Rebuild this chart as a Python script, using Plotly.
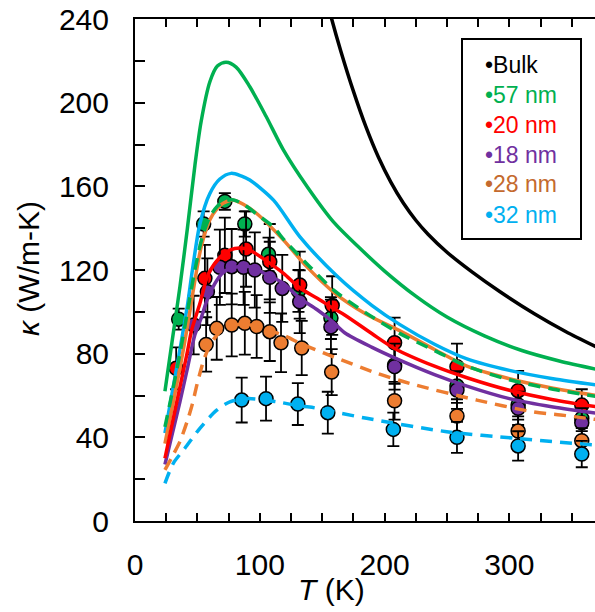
import plotly.graph_objects as go

# ---------------- measured data (symbols with error bars) ----------------
T_57 = [35, 55, 72, 88, 107, 131, 157, 208, 258, 307, 358]
k_57 = [96.5, 142, 152.8, 142, 127.5, 110, 97, 74.6, 64.5, 55.5, 49]
e_57 = [5, 6, 4, 6, 8, 10, 10, 9, 8, 7, 6]

T_20 = [33, 56, 72, 89, 108, 132, 158, 208, 258, 307, 358]
k_20 = [73, 116, 127, 130, 124, 112.8, 103, 85.2, 73.8, 62.3, 55.4]
e_20 = [10, 16, 18, 18, 18, 16, 14, 12, 11, 9.5, 7.6]

T_18 = [47, 58, 68, 77.5, 87, 96, 108, 118, 132, 157, 208, 258, 307, 358]
k_18 = [93.7, 109.6, 121.3, 121.6, 121.3, 120, 116.5, 111.2, 104.8, 92.8, 73.8, 62.6, 53.9, 47]
e_18 = [14, 16, 18, 18, 18, 18, 17, 16, 15, 13, 11, 9, 8, 7]

T_28 = [57, 65.5, 77.5, 88, 97.5, 108, 117, 133.6, 157.6, 208, 258, 307, 358]
k_28 = [84.4, 92.1, 93.7, 94.5, 93, 90.5, 85.2, 82.7, 71.2, 57.5, 50.2, 43, 38.4]
e_28 = [13, 15, 15, 15, 15, 14, 14, 13, 11, 9, 8, 7, 6]

T_32 = [85.5, 105, 130.5, 154.5, 207, 258, 307, 358]
k_32 = [57.8, 58.5, 55.9, 51.8, 43.8, 40, 35.9, 32]
e_32 = [10.7, 10.5, 10, 10, 8, 7.4, 7, 6.3]

# ---------------- model curves ----------------
Tc_bulk = [150, 157.6, 165, 175, 185, 195, 205, 215, 225, 235, 250, 270, 292.5, 320, 345, 370]
kc_bulk = [258, 240, 224.5, 205.5, 188.5, 174, 162, 152, 143.8, 137, 128.5, 119.1, 109.6, 99.1, 90.6, 83.1]

Tc_57s = [24, 30, 36, 42, 48, 53, 60, 66, 73, 81, 92, 105, 119, 138, 159, 180, 200, 225, 250, 280, 310, 340, 370]
kc_57s = [62, 87, 112, 140, 170, 191, 210, 217.5, 219.3, 217, 207.6, 193.5, 177.3, 159.8, 143, 130.5, 119.5, 107.5, 97.5, 88.5, 81.5, 76.5, 72.5]

Tc_32s = [24, 30, 36, 42, 46, 52, 60, 68, 77, 85, 92, 111, 132, 162, 190, 212, 240, 266, 300, 335, 370]
kc_32s = [42, 62, 82, 103, 120, 142, 156.6, 163.5, 166.2, 165, 163, 153.4, 136, 117, 103, 94, 84.5, 77.5, 72, 68, 65]

Tc_28s = [24, 30, 36, 42, 48, 53, 60, 66, 71, 79, 88, 97.5, 119, 137.6, 160, 185, 212, 240, 266, 300, 335, 370]
kc_28s = [37, 55, 73, 93, 115, 131, 144, 149.5, 152, 153.4, 151, 147, 134.3, 121.6, 109, 99, 91, 82, 74, 68, 63.5, 60]

Tc_57d = [24, 30, 36, 42, 48, 54, 60, 66, 72, 79, 88, 98, 111, 120, 140, 160, 185, 212, 240, 266, 300, 335, 370]
kc_57d = [45, 62, 80, 100, 120, 136, 145.5, 150.5, 153, 153.5, 151, 146.5, 140.5, 134, 121.6, 110, 99.5, 89.7, 81.5, 74, 67.5, 63, 59.5]

Tc_20 = [24, 30, 36, 42, 45.4, 52, 58.7, 68, 76, 84, 92, 105, 119, 132, 146, 158, 168, 190, 208, 240, 266, 300, 335, 370]
kc_20 = [30, 47, 64, 81, 91.3, 104, 118, 126, 129.5, 130.5, 129.5, 124.5, 118.4, 111.5, 106.5, 102, 98.5, 89.5, 82.5, 74, 68.5, 62.5, 58, 54.6]

Tc_18 = [24, 30, 36, 42, 48, 53, 58, 65.5, 72, 80, 92, 105, 119, 132, 146, 158, 168, 190, 208, 240, 266, 300, 335, 370]
kc_18 = [27, 42, 57, 73, 89, 97, 106, 115, 119.5, 121.3, 121.6, 118, 113.6, 106.5, 101, 95.5, 90, 83, 78, 70, 64.5, 58.5, 54.5, 51.5]

Tc_28d = [24, 30, 36, 42, 46, 50, 56, 62, 70, 80, 90, 100, 120, 132, 140, 159, 194, 220, 274, 319, 341, 370]
kc_28d = [24.4, 31, 38, 48, 56, 66, 78.5, 86, 91.5, 93.8, 94, 92.5, 88.5, 85, 83, 78.5, 70.6, 65.8, 57.8, 52.2, 50.7, 48.5]

Tc_32d = [24, 30.7, 40, 52, 65.5, 76, 90, 113.5, 132, 140, 185.6, 249.8, 305.8, 370]
kc_32d = [18, 27.6, 34.8, 44.3, 53, 57, 58.5, 57, 55, 54.5, 49.1, 42.7, 39.5, 36.2]

legend_names = ["Bulk", "57 nm", "20 nm", "18 nm", "28 nm", "32 nm"]
x_ticks = [0, 100, 200, 300]
y_ticks = [0, 40, 80, 120, 160, 200, 240]

# ---------------- styles ----------------
GREEN = "#00B050"
RED = "#FF0000"
PURPLE = "#7030A0"
ORANGE = "#ED7D31"
BLUE = "#00B0F0"
BLACK = "#000000"
legend_colors = [BLACK, GREEN, RED, PURPLE, "#C46A2E", BLUE]
FONT = "Arial, 'Liberation Sans', sans-serif"

fig = go.Figure()

def add_points(T, k, e, color):
    fig.add_trace(go.Scatter(
        x=T, y=k, mode="markers",
        marker=dict(size=14, color=color, line=dict(color="black", width=1.5)),
        error_y=dict(type="data", array=e, color="black", thickness=1.8, width=6),
        hoverinfo="skip", showlegend=False))

add_points(T_57, k_57, e_57, GREEN)
add_points(T_20, k_20, e_20, RED)
add_points(T_18, k_18, e_18, PURPLE)
add_points(T_28, k_28, e_28, ORANGE)
add_points(T_32, k_32, e_32, BLUE)

def add_curve(T, k, color, dash="solid"):
    fig.add_trace(go.Scatter(
        x=T, y=k, mode="lines",
        line=dict(color=color, width=3.5, dash=dash, shape="spline", smoothing=0.8),
        hoverinfo="skip", showlegend=False))

DASH = "12px,8px"
add_curve(Tc_bulk, kc_bulk, BLACK)
add_curve(Tc_57s, kc_57s, GREEN)
add_curve(Tc_32s, kc_32s, BLUE)
add_curve(Tc_28s, kc_28s, ORANGE)
add_curve(Tc_57d, kc_57d, GREEN, DASH)
add_curve(Tc_18, kc_18, PURPLE)
add_curve(Tc_20, kc_20, RED)
add_curve(Tc_28d, kc_28d, ORANGE, DASH)
add_curve(Tc_32d, kc_32d, BLUE, DASH)

# page geometry (px); body margin is removed so the figure sits at (0, 0)
W, H = 595, 612
L, R, TOP, BOT = 135, 595, 19, 521

def px_x(px):
    return (px - L) / (R - L)

def px_y(py):
    return (BOT - py) / (BOT - TOP)

# legend box
fig.add_shape(type="rect", xref="paper", yref="paper",
              x0=px_x(462), x1=px_x(581), y0=px_y(239), y1=px_y(39),
              line=dict(color="black", width=2), fillcolor="white", layer="above")
row_y = [65, 95, 125, 155, 184, 215]
for name, col, ry in zip(legend_names, legend_colors, row_y):
    fig.add_annotation(xref="paper", yref="paper", x=px_x(483), y=px_y(ry),
                       xanchor="left", yanchor="middle", showarrow=False,
                       text="•" + name, font=dict(family=FONT, size=23, color=col))

# axis titles
fig.add_annotation(xref="paper", yref="paper", x=px_x(331), y=px_y(590),
                   xanchor="center", yanchor="middle", showarrow=False,
                   text="<i>T</i> (K)", font=dict(family=FONT, size=30, color="black"))
fig.add_annotation(xref="paper", yref="paper", x=px_x(28), y=px_y(269),
                   xanchor="center", yanchor="middle", showarrow=False, textangle=-90,
                   text="<i>κ</i> (W/m-K)", font=dict(family=FONT, size=30, color="black"))

fig.update_layout(
    width=W, height=H,
    margin=dict(l=L, r=W - R, t=TOP, b=H - BOT, pad=0),
    paper_bgcolor="white", plot_bgcolor="white",
    showlegend=False,
    font=dict(family=FONT, size=30, color="black"),
    xaxis=dict(range=[0, 368.6], showgrid=False, zeroline=False,
               showline=True, linecolor="black", linewidth=2, mirror="ticks",
               ticks="inside", ticklen=8, tickwidth=2, tickcolor="black",
               tickmode="array", tickvals=x_ticks, ticktext=[str(v) for v in x_ticks],
               tickfont=dict(family=FONT, size=30, color="black"),
               ticklabelstandoff=16, ticklabeloverflow="allow",
               minor=dict(dtick=25, tick0=0, ticks="inside", ticklen=8,
                          tickwidth=2, tickcolor="black", showgrid=False)),
    yaxis=dict(range=[0, 240], showgrid=False, zeroline=False,
               showline=True, linecolor="black", linewidth=2, mirror=False,
               ticks="inside", ticklen=10, tickwidth=2, tickcolor="black",
               tickmode="array", tickvals=y_ticks, ticktext=[str(v) for v in y_ticks],
               tickfont=dict(family=FONT, size=30, color="black"),
               ticklabelstandoff=18, ticklabeloverflow="allow",
               minor=dict(dtick=20, tick0=0, ticks="inside", ticklen=10,
                          tickwidth=2, tickcolor="black", showgrid=False)),
)

fig.write_html("out.html",
               config={"displayModeBar": False},
               post_script="document.body.style.margin='0';document.body.style.overflow='hidden';")
